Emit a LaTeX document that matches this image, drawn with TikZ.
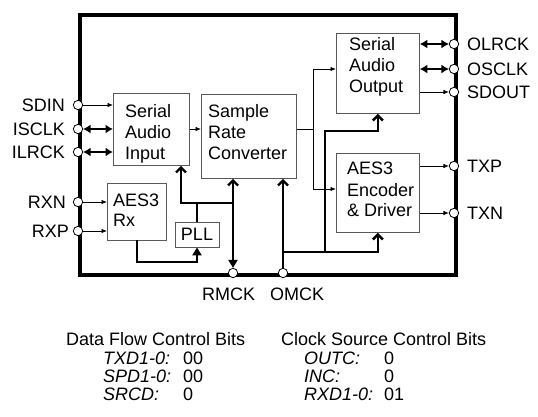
\documentclass[tikz,border=0pt]{standalone}
\usepackage{fontspec}
\setmainfont{Liberation Sans}
\usetikzlibrary{arrows.meta}
\begin{document}
\begin{tikzpicture}[x=1pt,y=-1pt,
  txt/.style={font=\fontsize{18}{20}\selectfont, inner sep=0pt, anchor=base west},
  box/.style={draw=black!65, line width=0.8pt, inner sep=0pt, anchor=north west},
  pinc/.style={circle, draw, fill=white, line width=0.8pt, minimum size=9.4pt, inner sep=0pt},
  plain/.style={line width=0.8pt},
  thn/.style={line width=0.8pt, -{Latex[length=5.5pt,width=4.5pt]}},
  thk/.style={line width=2.4pt},
  dbl/.style={line width=2.4pt, {Latex[length=7.5pt,width=9pt]}-{Latex[length=7.5pt,width=9pt]}},
  chev/.style={line width=2.4pt, -{Straight Barb[length=5pt,width=10pt]}},
  tri/.style={line width=2.4pt, -{Triangle[length=8pt,width=9pt]}},
  bi/.style={line width=2.4pt, {Straight Barb[length=5pt,width=10pt]}-{Triangle[length=8pt,width=9pt]}}
]
\useasboundingbox (0,0) rectangle (538,417);

% chip outline
\node[draw, line width=4.2pt, inner sep=0pt, anchor=north west, minimum width=376pt, minimum height=260pt] (chip) at (78,13) {};

% blocks
\node[box, minimum width=76pt, minimum height=72pt] (sai) at (113,93) {};
\node[box, minimum width=95pt, minimum height=84pt] (src) at (201,94) {};
\node[box, minimum width=83pt, minimum height=80pt] (sao) at (336,33) {};
\node[box, minimum width=83pt, minimum height=79pt] (enc) at (336,153) {};
\node[box, minimum width=59pt, minimum height=57pt] (rx) at (107,183) {};
\node[box, minimum width=44pt, minimum height=25pt, anchor=center, font=\fontsize{18}{20}\selectfont] (pll) at (197,234.5) {PLL};

% block texts
\node[txt] (t1) at (125,118) {Serial};
\node[txt] (t2) at (125,139) {Audio};
\node[txt] (t3) at (125,159) {Input};
\node[txt] (t4) at (208,118) {Sample};
\node[txt] (t5) at (208,139) {Rate};
\node[txt] (t6) at (208,159) {Converter};
\node[txt] (t7) at (349,51) {Serial};
\node[txt] (t8) at (349,72) {Audio};
\node[txt] (t9) at (349,93) {Output};
\node[txt] (t10) at (347,175) {AES3};
\node[txt] (t11) at (347,196) {Encoder};
\node[txt] (t12) at (347,216) {\& Driver};
\node[txt] (t13) at (113,206) {AES3};
\node[txt] (t14) at (113,226) {Rx};

% pins
\node[pinc] (sdin) at (78,105) {};
\node[pinc] (isclk) at (78,129) {};
\node[pinc] (ilrck) at (78,152) {};
\node[pinc] (rxn) at (78,202) {};
\node[pinc] (rxp) at (78,231) {};
\node[pinc] (olrck) at (454,44) {};
\node[pinc] (osclk) at (454,69) {};
\node[pinc] (sdout) at (454,92) {};
\node[pinc] (txp) at (454,166) {};
\node[pinc] (txn) at (454,213) {};
\node[pinc] (rmck) at (233,273) {};
\node[pinc] (omck) at (283,273) {};

% pin labels
\node[txt, anchor=base east] (l1) at (65,111.5) {SDIN};
\node[txt, anchor=base east] (l2) at (65,135.5) {ISCLK};
\node[txt, anchor=base east] (l3) at (65,158.5) {ILRCK};
\node[txt, anchor=base east] (l4) at (66,208.5) {RXN};
\node[txt, anchor=base east] (l5) at (69,237.5) {RXP};
\node[txt] (l6) at (467,50.5) {OLRCK};
\node[txt] (l7) at (467,75.5) {OSCLK};
\node[txt] (l8) at (467,98.5) {SDOUT};
\node[txt] (l9) at (467,172.5) {TXP};
\node[txt] (l10) at (467,219.5) {TXN};
\node[txt] (l11) at (202,300) {RMCK};
\node[txt] (l12) at (270,300) {OMCK};

% junction coordinates
\coordinate (br) at (313,129);
\coordinate (encin) at (313,189);
\coordinate (rxo) at (137,240);
\coordinate (rxc) at (137,262);
\coordinate (ck) at (181,203);
\coordinate (ckr) at (233,203);
\coordinate (ob) at (283,252);
\coordinate (obm) at (325,252);
\coordinate (obt) at (325,131);

% connectors
\draw[thn] (sdin) -- (sdin -| sai.west);
\draw[dbl] (isclk) -- (isclk -| sai.west);
\draw[dbl] (ilrck) -- (ilrck -| sai.west);
\draw[thn] (rxn) -- (rxn -| rx.west);
\draw[thn] (rxp) -- (rxp -| rx.west);
\draw[thn] (isclk -| sai.east) -- (isclk -| src.west);
\draw[plain] (isclk -| src.east) -- (br);
\draw[thn] (br) |- (osclk -| sao.west);
\draw[thn] (br) |- (encin -| enc.west);
\draw[thn] (sdout -| sao.east) -- (sdout);
\draw[dbl] (olrck -| sao.east) -- (olrck);
\draw[dbl] (osclk -| sao.east) -- (osclk);
\draw[thn] (txp -| enc.east) -- (txp);
\draw[thn] (txn -| enc.east) -- (txn);
\draw[tri] (rxo) -- (rxc) -| (pll.south);
\draw[thk] (pll.north) -- (pll.north |- ck);
\draw[chev] (ckr) -- (ck) -- (ck |- sai.south);
\draw[bi] (rmck |- src.south) -- (rmck);
\draw[chev] (omck) -- (omck |- src.south);
\draw[chev] (ob) -| (enc.south);
\draw[chev] (obm) -- (obt) -| (sao.south);

% control bits
\node[txt] (h1) at (66,345) {Data Flow Control Bits};
\node[txt] (h2) at (281,345) {Clock Source Control Bits};
\node[txt] (a1) at (103,364) {\itshape TXD1-0:};
\node[txt] (a2) at (103,382) {\itshape SPD1-0:};
\node[txt] (a3) at (103,400) {\itshape SRCD:};
\node[txt] (v1) at (183,364) {00};
\node[txt] (v2) at (183,382) {00};
\node[txt] (v3) at (183,400) {0};
\node[txt] (b1) at (304,364) {\itshape OUTC:};
\node[txt] (b2) at (304,382) {\itshape INC:};
\node[txt] (b3) at (304,400) {\itshape RXD1-0:};
\node[txt] (w1) at (384,364) {0};
\node[txt] (w2) at (384,382) {0};
\node[txt] (w3) at (384,400) {01};
\end{tikzpicture}
\end{document}
